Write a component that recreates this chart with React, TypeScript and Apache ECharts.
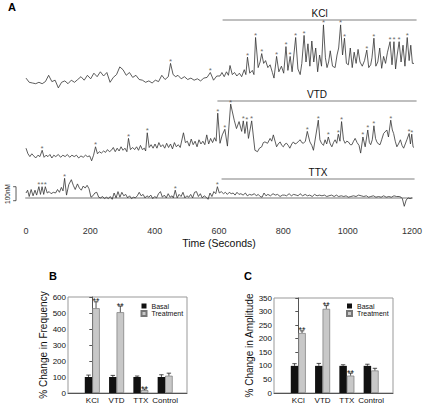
import React, { useEffect, useRef } from "react";
import * as echarts from "echarts";

const FONT = "Liberation Sans, Arial, sans-serif";

// ---------- Panel A: calcium traces (time s, nM relative) ----------
const kclTrace: [number, number][] = [
  [0,35],[10,5],[20,0],[30,-5],[40,5],[50,-5],[60,10],[70,55],[80,10],[90,20],[100,-35],[110,5],[120,15],[130,-5],[140,20],[150,5],[160,25],[170,45],[180,20],[190,55],[200,30],[210,70],[220,45],[230,80],[240,50],[250,75],[260,5],[270,40],[280,60],[290,115],[300,95],[310,55],[320,75],[330,40],[340,55],[350,25],[360,20],[370,5],[380,15],[390,0],[400,20],[410,10],[420,55],[430,25],[440,45],[447,140],[455,60],[463,45],[470,55],[480,30],[490,45],[500,25],[510,35],[520,20],[530,30],[540,15],[550,35],[560,40],[570,75],[580,20],[590,50],
  [600,50],[606,75],[613,45],[620,80],[626,55],[631,125],[638,60],[645,75],[652,50],[660,70],[667,45],[675,95],[680,60],[685,185],[692,70],[700,90],[705,60],[710,325],[718,110],[724,150],[729,210],[735,140],[741,160],[748,110],[755,130],[762,75],[767,35],[775,190],[782,80],[790,120],[797,70],[804,260],[810,90],[817,190],[823,80],[834,325],[841,100],[848,60],[853,140],[860,340],[866,150],[872,280],[878,120],[884,300],[890,150],[896,250],[902,80],[908,200],[914,120],[920,415],[926,180],[931,110],[936,150],[941,230],[948,120],[956,110],[962,200],[967,250],[973,415],[979,200],[985,320],[991,140],[997,130],[1003,250],[1009,110],[1015,220],[1021,140],[1027,240],[1033,150],[1040,120],[1047,160],[1054,235],[1060,110],[1066,130],[1070,180],[1076,320],[1082,120],[1088,150],[1094,250],[1100,105],[1106,190],[1112,140],[1118,220],[1126,295],[1132,130],[1138,295],[1143,100],[1148,200],[1154,295],[1160,150],[1166,270],[1172,120],[1179,325],[1185,160],[1190,270],[1195,140],[1200,140]
];
const kclStars = [447, 570, 685, 710, 729, 775, 804, 817, 834, 860, 920, 973, 985, 1054, 1076, 1126, 1138, 1154, 1179];

const vtdTrace: [number, number][] = [
  [0,70],[6,30],[12,10],[18,30],[24,15],[30,0],[37,20],[43,10],[50,55],[56,5],[62,20],[68,10],[74,25],[80,0],[86,20],[92,10],[100,25],[107,5],[114,20],[121,10],[128,25],[135,5],[142,20],[149,10],[156,20],[163,0],[170,15],[177,5],[184,20],[190,10],[197,15],[203,-20],[209,20],[215,80],[221,30],[227,45],[233,35],[240,50],[246,40],[252,60],[258,45],[264,55],[270,75],[276,45],[282,70],[288,50],[294,80],[300,55],[306,70],[312,45],[317,140],[323,60],[330,75],[336,60],[342,80],[348,55],[354,90],[360,60],[366,70],[370,50],[375,180],[381,75],[387,95],[393,70],[399,100],[405,70],[411,110],[417,80],[423,95],[429,70],[435,105],[441,75],[447,100],[453,65],[459,110],[465,80],[471,95],[477,75],[487,180],[493,110],[499,120],[505,85],[511,135],[517,95],[523,120],[529,80],[535,130],[541,100],[547,120],[553,95],[559,165],[565,100],[571,140],[577,110],[583,145],[588,120],[593,320],
  [600,105],[607,165],[615,205],[623,85],[633,385],[644,270],[651,210],[659,260],[667,190],[672,265],[677,175],[683,260],[688,140],[698,265],[708,55],[716,45],[722,70],[729,80],[734,110],[739,115],[747,105],[755,140],[760,120],[765,165],[775,80],[780,100],[786,115],[791,90],[796,80],[801,100],[806,105],[811,90],[816,70],[822,100],[827,115],[832,100],[837,105],[843,120],[848,130],[853,110],[858,105],[864,120],[870,190],[878,115],[884,90],[889,55],[904,270],[909,130],[914,105],[920,90],[925,130],[930,100],[935,150],[941,100],[946,80],[951,110],[956,130],[961,105],[966,170],[971,120],[976,260],[982,130],[987,105],[992,120],[997,115],[1003,95],[1008,95],[1013,120],[1018,140],[1024,110],[1030,90],[1035,35],[1042,150],[1049,80],[1057,200],[1062,110],[1066,95],[1071,130],[1076,230],[1081,140],[1085,115],[1090,100],[1095,95],[1100,130],[1106,175],[1116,200],[1121,150],[1128,270],[1133,200],[1137,175],[1142,120],[1147,80],[1152,100],[1158,130],[1163,90],[1168,70],[1173,100],[1178,130],[1185,175],[1189,100],[1193,170],[1197,80],[1200,75]
];
const vtdStars = [50, 215, 317, 375, 593, 615, 633, 672, 683, 698, 870, 904, 935, 966, 976, 1042, 1057, 1076, 1128, 1185, 1193];

const ttxTrace: [number, number][] = [
  [0,35],[5,55],[10,10],[16,60],[22,15],[28,55],[33,20],[40,80],[45,25],[50,80],[55,25],[60,80],[66,35],[72,45],[78,30],[85,40],[92,35],[98,60],[104,40],[110,75],[115,50],[120,140],[126,20],[133,95],[141,130],[147,90],[153,60],[160,100],[166,70],[172,55],[178,85],[184,70],[190,90],[196,65],[202,5],[208,15],[214,35],[220,40],[226,5],[232,0],[238,10],[244,-5],[250,5],[256,-5],[262,10],[268,-10],[274,35],[280,0],[286,45],[292,5],[298,40],[304,15],[310,25],[316,0],[322,15],[328,-5],[334,5],[340,0],[346,15],[352,40],[358,15],[364,25],[370,0],[376,15],[382,5],[388,20],[394,-5],[400,10],[406,0],[412,30],[418,45],[424,5],[430,20],[436,0],[442,30],[448,5],[454,15],[458,0],[464,55],[470,0],[476,25],[482,10],[488,40],[494,0],[500,15],[506,5],[512,25],[518,0],[524,40],[530,45],[536,10],[542,30],[548,0],[554,15],[560,5],[566,-10],[572,35],[578,10],[584,45],[590,30],[595,80],
  [601,35],[607,45],[614,30],[620,40],[626,25],[632,40],[638,30],[644,35],[650,20],[656,40],[662,25],[668,30],[675,20],[682,35],[688,15],[695,25],[702,20],[710,30],[716,15],[722,25],[728,10],[734,5],[740,35],[746,15],[752,25],[760,15],[768,30],[775,20],[782,25],[790,10],[797,20],[804,20],[810,15],[818,30],[825,15],[832,25],[840,20],[846,15],[852,30],[860,15],[868,25],[875,15],[882,20],[890,10],[897,25],[905,15],[912,20],[920,15],[928,20],[935,10],[942,15],[950,20],[958,10],[965,20],[972,10],[980,15],[988,10],[995,15],[1002,5],[1010,10],[1018,15],[1026,10],[1034,20],[1042,15],[1050,10],[1058,15],[1065,5],[1072,10],[1080,15],[1088,5],[1096,10],[1104,5],[1112,15],[1120,5],[1128,10],[1136,5],[1144,15],[1152,10],[1160,10],[1166,5],[1170,-5],[1176,-60],[1182,-15],[1188,0],[1194,-5],[1200,0]
];
const ttxStars = [40, 50, 60, 120, 464, 595];

const treatmentNames = ["KCl", "VTD", "TTX"];
const treatmentStart = [608, 592, 608];
const treatmentEnd = 1208;
const scaleBarNM = [-20, 80]; // 100 nM bracket
const scaleBarTime = [-40, -31];

// ---------- Panels B and C ----------
const categories = ["KCl", "VTD", "TTX", "Control"];
const freqBasal = [100, 100, 100, 100];
const freqBasalErr = [12, 10, 6, 14];
const freqTreat = [530, 505, 18, 108];
const freqTreatErr = [40, 38, 7, 16];
const freqSig = ["**", "**", "**", ""];
const ampBasal = [100, 100, 100, 100];
const ampBasalErr = [8, 9, 4, 6];
const ampTreat = [221, 310, 64, 83];
const ampTreatErr = [8, 12, 9, 8];
const ampSig = ["**", "**", "**", ""];

const BAR_W = 7.5;

function starPoints(trace: [number, number][], stars: number[]) {
  return stars
    .map((t) => trace.find((p) => p[0] === t))
    .filter((p) => !!p) as [number, number][];
}

function errorSeries(axisIdx: number, vals: number[], errs: number[], sig: string[], offset: number) {
  return {
    type: "custom",
    xAxisIndex: axisIdx,
    yAxisIndex: axisIdx,
    silent: true,
    clip: false,
    z: 5,
    data: vals.map((v, i) => [i, v, errs[i]]),
    renderItem: (params: any, api: any) => {
      const x = api.value(0);
      const v = api.value(1);
      const e = api.value(2);
      const base = api.coord([x, v]);
      const top = api.coord([x, v + e]);
      const cx = base[0] + offset;
      const children: any[] = [
        { type: "line", shape: { x1: cx, y1: base[1], x2: cx, y2: top[1] }, style: { stroke: "#222", lineWidth: 0.8 } },
        { type: "line", shape: { x1: cx - 2.2, y1: top[1], x2: cx + 2.2, y2: top[1] }, style: { stroke: "#222", lineWidth: 0.8 } },
      ];
      const s = sig[params.dataIndex];
      if (s) {
        children.push({
          type: "text",
          style: { text: s, x: cx, y: top[1] - 0.5, align: "center", verticalAlign: "middle", fontSize: 9, fill: "#222", fontFamily: FONT },
        });
      }
      return { type: "group", children };
    },
  };
}

function traceSeries(idx: number, trace: [number, number][]) {
  return {
    type: "line",
    xAxisIndex: idx,
    yAxisIndex: idx,
    data: trace,
    symbol: "none",
    clip: false,
    lineStyle: { color: "#333", width: 0.8 },
    silent: true,
  };
}

// treatment bar + name drawn through the axis scales
function treatmentBarSeries(idx: number, yMax: number) {
  const start = treatmentStart[idx];
  return {
    type: "custom",
    xAxisIndex: idx,
    yAxisIndex: idx,
    clip: false,
    silent: true,
    data: [[start, yMax]],
    renderItem: (_params: any, api: any) => {
      const p0 = api.coord([start, yMax]);
      const p1 = api.coord([treatmentEnd, yMax]);
      return {
        type: "group",
        children: [
          { type: "line", shape: { x1: p0[0], y1: p0[1], x2: p1[0], y2: p1[1] }, style: { stroke: "#aaa", lineWidth: 1.3 } },
          {
            type: "text",
            style: {
              text: treatmentNames[idx],
              x: (p0[0] + p1[0]) / 2,
              y: p0[1] - 2,
              align: "center",
              verticalAlign: "bottom",
              fontSize: 10,
              fill: "#111",
              fontFamily: FONT,
            },
          },
        ],
      };
    },
  };
}

function scaleBarSeries(idx: number) {
  return {
    type: "custom",
    xAxisIndex: idx,
    yAxisIndex: idx,
    clip: false,
    silent: true,
    data: [[0, 0]],
    renderItem: (_params: any, api: any) => {
      const a = api.coord([scaleBarTime[0], scaleBarNM[0]]);
      const b = api.coord([scaleBarTime[1], scaleBarNM[0]]);
      const c = api.coord([scaleBarTime[1], scaleBarNM[1]]);
      const d = api.coord([scaleBarTime[0], scaleBarNM[1]]);
      return {
        type: "polyline",
        shape: { points: [a, b, c, d] },
        style: { stroke: "#333", lineWidth: 0.8, fill: "none" },
      };
    },
  };
}

function starSeries(idx: number, pts: [number, number][]) {
  return {
    type: "scatter",
    xAxisIndex: idx,
    yAxisIndex: idx,
    data: pts,
    symbolSize: 1,
    clip: false,
    silent: true,
    itemStyle: { color: "transparent" },
    label: { show: true, formatter: "*", position: "top", distance: -2.5, fontSize: 8, color: "#444", fontFamily: FONT },
  };
}

const yRanges = [
  { min: -50, max: 450 },
  { min: -50, max: 407 },
  { min: -165, max: 135 },
];

function buildOption() {
  const timeAxisBase = { type: "value", min: 0, max: 1200, interval: 200 };
  const barX = (grid: number) => ({
    type: "value",
    gridIndex: grid,
    min: -1,
    max: 3.9,
    splitLine: { show: false },
    axisTick: { show: false },
    axisLine: { show: true, lineStyle: { color: "#555", width: 1 } },
    axisLabel: {
      customValues: [0, 1, 2, 3],
      formatter: (v: number) => categories[Math.round(v)] ?? "",
      fontSize: 8,
      color: "#111",
      margin: 3,
      fontFamily: FONT,
    },
  });
  const barY = (grid: number, max: number, interval: number, name: string) => ({
    type: "value",
    gridIndex: grid,
    min: 0,
    max,
    interval,
    name,
    nameLocation: "middle",
    nameGap: 17,
    nameTextStyle: { fontSize: 10, color: "#111", fontFamily: FONT },
    splitLine: { show: false },
    axisLine: { show: true, lineStyle: { color: "#555", width: 1 } },
    axisTick: { show: true, length: 3, lineStyle: { color: "#555" } },
    axisLabel: { fontSize: 8, color: "#111", margin: 2, fontFamily: FONT },
  });
  const legendBase = {
    data: ["Basal", "Treatment"],
    orient: "vertical",
    top: 302.5,
    padding: 0,
    itemWidth: 5,
    itemHeight: 5,
    itemGap: 0.5,
    icon: "rect",
    selectedMode: false,
    inactiveColor: "#111",
    textStyle: { fontSize: 7, color: "#111", lineHeight: 7, fontFamily: FONT },
  };

  return {
    animation: false,
    textStyle: { fontFamily: FONT },
    grid: [
      { left: 26, right: 11, top: 20, height: 70 },
      { left: 26, right: 11, top: 101, height: 64 },
      { left: 26, right: 11, top: 179, height: 42 },
      { left: 68, right: 238, top: 297, bottom: 14, show: true, borderColor: "#999", borderWidth: 1 },
      { left: 274, right: 32, top: 298, bottom: 14, show: true, borderColor: "#999", borderWidth: 1 },
    ],
    xAxis: [
      { ...timeAxisBase, gridIndex: 0, show: false },
      { ...timeAxisBase, gridIndex: 1, show: false },
      {
        ...timeAxisBase,
        gridIndex: 2,
        name: "Time (Seconds)",
        nameLocation: "middle",
        nameGap: 16,
        nameTextStyle: { fontSize: 10.5, color: "#111", fontFamily: FONT },
        splitLine: { show: false },
        axisTick: { show: false },
        axisLine: { show: true, lineStyle: { color: "#bbb", width: 2 } },
        axisLabel: { fontSize: 9, color: "#333", margin: 5, fontFamily: FONT, formatter: (v: number) => String(v) },
      },
      barX(3),
      barX(4),
    ],
    yAxis: [
      { type: "value", gridIndex: 0, show: false, ...yRanges[0] },
      { type: "value", gridIndex: 1, show: false, ...yRanges[1] },
      { type: "value", gridIndex: 2, show: false, ...yRanges[2] },
      barY(3, 600, 100, "% Change in Frequency"),
      barY(4, 350, 50, "% Change in Amplitude"),
    ],
    legend: [
      { ...legendBase, left: 140.5 },
      { ...legendBase, left: 346 },
    ],
    series: [
      traceSeries(0, kclTrace),
      traceSeries(1, vtdTrace),
      traceSeries(2, ttxTrace),
      treatmentBarSeries(0, yRanges[0].max),
      treatmentBarSeries(1, yRanges[1].max),
      treatmentBarSeries(2, yRanges[2].max),
      starSeries(0, starPoints(kclTrace, kclStars)),
      starSeries(1, starPoints(vtdTrace, vtdStars)),
      starSeries(2, starPoints(ttxTrace, ttxStars)),
      scaleBarSeries(2),
      {
        name: "Basal",
        type: "bar",
        xAxisIndex: 3,
        yAxisIndex: 3,
        barWidth: BAR_W,
        barGap: "0%",
        itemStyle: { color: "#111" },
        data: freqBasal.map((v, i) => [i, v]),
      },
      {
        name: "Treatment",
        type: "bar",
        xAxisIndex: 3,
        yAxisIndex: 3,
        barWidth: BAR_W,
        barGap: "0%",
        itemStyle: { color: "#c8c8c8", borderColor: "#777", borderWidth: 0.7 },
        data: freqTreat.map((v, i) => [i, v]),
      },
      {
        name: "Basal",
        type: "bar",
        xAxisIndex: 4,
        yAxisIndex: 4,
        barWidth: BAR_W,
        barGap: "0%",
        itemStyle: { color: "#111" },
        data: ampBasal.map((v, i) => [i, v]),
      },
      {
        name: "Treatment",
        type: "bar",
        xAxisIndex: 4,
        yAxisIndex: 4,
        barWidth: BAR_W,
        barGap: "0%",
        itemStyle: { color: "#c8c8c8", borderColor: "#777", borderWidth: 0.7 },
        data: ampTreat.map((v, i) => [i, v]),
      },
      errorSeries(3, freqBasal, freqBasalErr, ["", "", "", ""], -BAR_W / 2),
      errorSeries(3, freqTreat, freqTreatErr, freqSig, BAR_W / 2),
      errorSeries(4, ampBasal, ampBasalErr, ["", "", "", ""], -BAR_W / 2),
      errorSeries(4, ampTreat, ampTreatErr, ampSig, BAR_W / 2),
    ],
    graphic: [
      { type: "text", left: 8, top: 1, style: { text: "A", font: `bold 11px ${FONT}`, fill: "#000" } },
      { type: "text", left: 49, top: 270, style: { text: "B", font: `bold 11px ${FONT}`, fill: "#000" } },
      { type: "text", left: 244, top: 270, style: { text: "C", font: `bold 11px ${FONT}`, fill: "#000" } },
      {
        type: "text",
        x: 7,
        y: 194,
        rotation: Math.PI / 2,
        style: { text: "100nM", font: `6.5px ${FONT}`, fill: "#222", align: "center", verticalAlign: "middle" },
      },
    ],
  };
}

export default function App() {
  const ref = useRef<HTMLDivElement>(null);
  useEffect(() => {
    if (!ref.current) return;
    const chart = echarts.init(ref.current, null, { renderer: "svg" });
    chart.setOption(buildOption() as any);
    return () => chart.dispose();
  }, []);
  return (
    <div
      ref={ref}
      style={{ position: "fixed", left: 0, top: 0, width: 425, height: 407, background: "#fff" }}
    />
  );
}
